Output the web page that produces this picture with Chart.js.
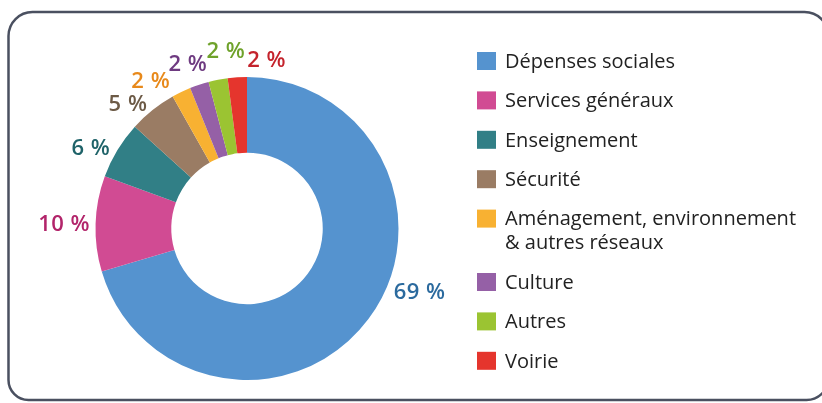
<!DOCTYPE html>
<html>
<head>
<meta charset="utf-8">
<script src="https://cdn.jsdelivr.net/npm/chart.js@4"></script>
<style>
  html, body { margin: 0; padding: 0; background: #ffffff; }
  #wrap { position: relative; width: 822px; height: 403px; }
</style>
</head>
<body>
<div id="wrap"><canvas id="depenses" width="822" height="403"></canvas></div>
<script>
// catégories de dépenses et parts (%)
var categories = [
    ['Dépenses sociales'],
    ['Services généraux'],
    ['Enseignement'],
    ['Sécurité'],
    ['Aménagement, environnement', '& autres réseaux'],
    ['Culture'],
    ['Autres'],
    ['Voirie']
];
var parts = [69, 10, 6, 5, 2, 2, 2, 2];
var partLabels = ['69 %', '10 %', '6 %', '5 %', '2 %', '2 %', '2 %', '2 %'];

var sliceColors = ['#5593cf', '#d14b93', '#317f86', '#9a7c64', '#f8b132', '#9560a6', '#9bc432', '#e5352d'];
var labelColors = ['#2b6a9e', '#b2246a', '#1f6369', '#6c5a46', '#e8891a', '#6e3a80', '#6fa22b', '#c4232c'];

// cadre arrondi autour du graphique
var framePlugin = {
    id: 'frame',
    beforeDraw: function (chart) {
        var ctx = chart.ctx;
        ctx.save();
        ctx.strokeStyle = '#4a5060';
        ctx.lineWidth = 2.5;
        ctx.beginPath();
        ctx.roundRect(8.5, 12, 820, 388, [24, 24, 22, 20]);
        ctx.stroke();
        ctx.restore();
    }
};

// étiquettes de pourcentage autour de l'anneau
var pctPlugin = {
    id: 'pctLabels',
    afterDatasetsDraw: function (chart, args, opts) {
        var ctx = chart.ctx;
        var meta = chart.getDatasetMeta(0);
        ctx.save();
        ctx.font = '600 22px "Open Sans"';
        ctx.letterSpacing = '0.5px';
        ctx.textAlign = 'center';
        ctx.textBaseline = 'middle';
        meta.data.forEach(function (arc, i) {
            var p = arc.getProps(['x', 'y', 'startAngle', 'endAngle', 'outerRadius'], true);
            var mid = (p.startAngle + p.endAngle) / 2;
            var r = p.outerRadius + opts.gap;
            var n = opts.nudges[i] || [0, 0];
            ctx.fillStyle = labelColors[i];
            ctx.fillText(partLabels[i], p.x + Math.cos(mid) * r + n[0], p.y + Math.sin(mid) * r + n[1]);
        });
        ctx.restore();
    }
};

// légende dessinée à droite
var legendPlugin = {
    id: 'sideLegend',
    afterDraw: function (chart, args, opts) {
        var ctx = chart.ctx;
        var y = opts.top;
        ctx.save();
        ctx.font = '20px "Open Sans"';
        ctx.textBaseline = 'middle';
        chart.data.labels.forEach(function (lines, i) {
            ctx.fillStyle = chart.data.datasets[0].backgroundColor[i];
            ctx.fillRect(opts.left, y - 9, 19, 18);
            ctx.fillStyle = '#222222';
            lines.forEach(function (line, k) {
                ctx.fillText(line, opts.left + 28, y + k * opts.lineHeight + 1);
            });
            y += opts.rowStep + (lines.length - 1) * opts.lineHeight;
        });
        ctx.restore();
    }
};

var ctx = document.getElementById('depenses').getContext('2d');

var donut = new Chart(ctx, {
    type: 'doughnut',
    data: {
        labels: categories,
        datasets: [{
            data: parts,
            backgroundColor: sliceColors,
            borderWidth: 0
        }]
    },
    options: {
        responsive: false,
        animation: false,
        cutout: '50%',
        layout: {
            padding: { left: 95.5, right: 423.5, top: 77, bottom: 23 }
        },
        plugins: {
            legend: { display: false },
            tooltip: { enabled: false },
            pctLabels: {
                gap: 26.5,
                nudges: [[30, -42], [-5, 2], [-4, 13], [-8, 15], [-19, 14], [-3, 5], [13, -2], [31, 10]]
            },
            sideLegend: { left: 477, top: 61, rowStep: 39.4, lineHeight: 24 }
        }
    },
    plugins: [framePlugin, pctPlugin, legendPlugin]
});
</script>
</body>
</html>
